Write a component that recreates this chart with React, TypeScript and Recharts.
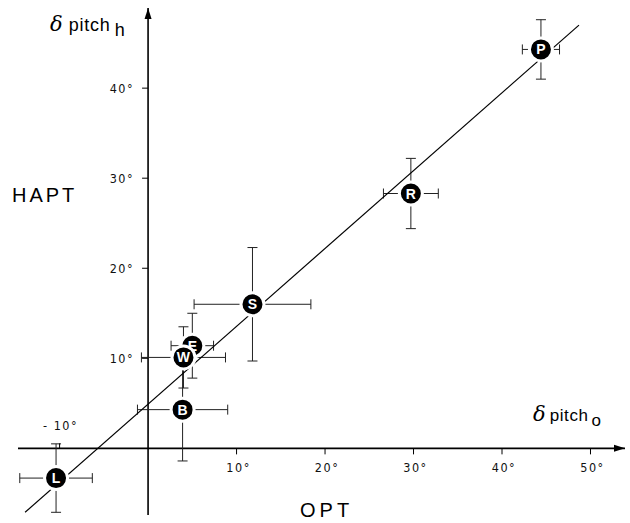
import React from 'react';
import {
  ScatterChart, Scatter, XAxis, YAxis, ErrorBar, ReferenceLine, ReferenceDot,
} from 'recharts';

// one point per subject: OPT (visual) vs HAPT (haptic) pitch offset, degrees
const letters = ['P', 'R', 'S', 'E', 'W', 'B', 'L'];
const optPitch = [44.4, 29.7, 11.8, 5.0, 4.0, 3.9, -10.4];
const haptPitch = [44.3, 28.3, 16.0, 11.4, 10.1, 4.3, -3.3];
const optErr = [2.1, 3.1, 6.6, 2.4, 4.75, 5.1, 4.1];
const haptErr = [3.3, 3.9, 6.3, 3.6, 3.4, 5.7, 3.8];

// regression line end points
const fitX = [-13.9, 48.7];
const fitY = [-7.1, 47.0];

const xTicks = [10, 20, 30, 40, 50];
const yTicks = [10, 20, 30, 40];
const negTick = -10;

const xDomain = [-14.7, 53.9];
const yDomain = [-7.4, 48.9];

const points = letters.map((l, i) => ({
  label: l, x: optPitch[i], y: haptPitch[i], ex: optErr[i], ey: haptErr[i],
}));
const fitLine = fitX.map((x, i) => ({ x, y: fitY[i] }));

const tickFont = '"DejaVu Sans Condensed", "Liberation Sans Narrow", sans-serif';
const labelFont = '"Liberation Sans", Arial, sans-serif';

const Bubble = (props: any) => {
  const { cx, cy, payload } = props;
  return (
    <g>
      <circle cx={cx} cy={cy} r={11.5} fill="#000" stroke="#fff" strokeWidth={3} />
      <text x={cx} y={cy + 5} textAnchor="middle" fill="#fff" fontSize={14}
        fontWeight="bold" fontFamily={labelFont}>{payload.label}</text>
    </g>
  );
};

const XTick = (v: number) => (props: any) => {
  const { cx, cy } = props;
  return (
    <g>
      <line x1={cx} y1={cy} x2={cx} y2={cy + 6} stroke="#000" strokeWidth={1} />
      <text x={cx + 2} y={cy + 24} textAnchor="middle" fontSize={12.5} letterSpacing={1.5}
        fontFamily={tickFont} fill="#111">{v}°</text>
    </g>
  );
};

const YTick = (v: number) => (props: any) => {
  const { cx, cy } = props;
  return (
    <g>
      <line x1={cx - 6} y1={cy} x2={cx} y2={cy} stroke="#000" strokeWidth={1} />
      <text x={cx - 14} y={cy + 5} textAnchor="end" fontSize={12.5} letterSpacing={1.5}
        fontFamily={tickFont} fill="#111">{v}°</text>
    </g>
  );
};

const NegTick = (props: any) => {
  const { cx, cy } = props;
  return (
    <g>
      <line x1={cx} y1={cy} x2={cx} y2={cy - 5} stroke="#000" strokeWidth={1} />
      <text x={cx + 1} y={cy - 18} textAnchor="middle" fontSize={12.5} letterSpacing={1.5}
        fontFamily={tickFont} fill="#111">- {-negTick}°</text>
    </g>
  );
};

const ArrowRight = (props: any) => {
  const { cx, cy } = props;
  return <polygon points={`${cx},${cy} ${cx - 11},${cy - 3.5} ${cx - 11},${cy + 3.5}`} fill="#000" />;
};

const ArrowUp = (props: any) => {
  const { cx, cy } = props;
  return <polygon points={`${cx},${cy} ${cx - 3.5},${cy + 11} ${cx + 3.5},${cy + 11}`} fill="#000" />;
};

export default function App() {
  return (
    <div style={{ position: 'absolute', left: 0, top: 0, width: 630, height: 523, background: '#fff' }}>
      <ScatterChart width={630} height={523} margin={{ top: 8, right: 5, bottom: 8, left: 18 }}>
        <XAxis type="number" dataKey="x" domain={xDomain} hide allowDataOverflow />
        <YAxis type="number" dataKey="y" domain={yDomain} hide allowDataOverflow />
        <ReferenceLine y={0} stroke="#000" strokeWidth={1.6} />
        <ReferenceLine x={0} stroke="#000" strokeWidth={1.6} />
        <ReferenceDot x={xDomain[1]} y={0} shape={ArrowRight} ifOverflow="visible" />
        <ReferenceDot x={0} y={yDomain[1]} shape={ArrowUp} ifOverflow="visible" />
        {xTicks.map((v) => (
          <ReferenceDot key={'x' + v} x={v} y={0} shape={XTick(v)} />
        ))}
        {yTicks.map((v) => (
          <ReferenceDot key={'y' + v} x={0} y={v} shape={YTick(v)} />
        ))}
        <ReferenceDot x={negTick} y={0} shape={NegTick} />
        <Scatter data={fitLine} line={{ stroke: '#000', strokeWidth: 1.2 }}
          shape={() => null} isAnimationActive={false} />
        <Scatter data={points} shape={Bubble} isAnimationActive={false}>
          <ErrorBar dataKey="ex" direction="x" width={5} stroke="#222" strokeWidth={1} />
          <ErrorBar dataKey="ey" direction="y" width={5} stroke="#222" strokeWidth={1} />
        </Scatter>
      </ScatterChart>
      <div style={{ position: 'absolute', left: 50, top: 12, fontFamily: labelFont, whiteSpace: 'nowrap' }}>
        <span style={{ fontFamily: '"DejaVu Serif", serif', fontStyle: 'italic', fontSize: 21 }}>δ</span>
        <span style={{ fontSize: 18, marginLeft: 6, letterSpacing: 0.8 }}>pitch</span>
        <span style={{ fontSize: 18, marginLeft: 4, position: 'relative', top: 5 }}>h</span>
      </div>
      <div style={{ position: 'absolute', left: 533, top: 402, fontFamily: labelFont, whiteSpace: 'nowrap' }}>
        <span style={{ fontFamily: '"DejaVu Serif", serif', fontStyle: 'italic', fontSize: 21 }}>δ</span>
        <span style={{ fontSize: 17, marginLeft: 4, letterSpacing: 0.6 }}>pitch</span>
        <span style={{ fontSize: 17, marginLeft: 3, position: 'relative', top: 5 }}>o</span>
      </div>
      <div style={{ position: 'absolute', left: 12, top: 184, fontFamily: labelFont, fontSize: 20,
        letterSpacing: 3 }}>HAPT</div>
      <div style={{ position: 'absolute', left: 300, top: 499, fontFamily: labelFont, fontSize: 20,
        letterSpacing: 4 }}>OPT</div>
    </div>
  );
}
